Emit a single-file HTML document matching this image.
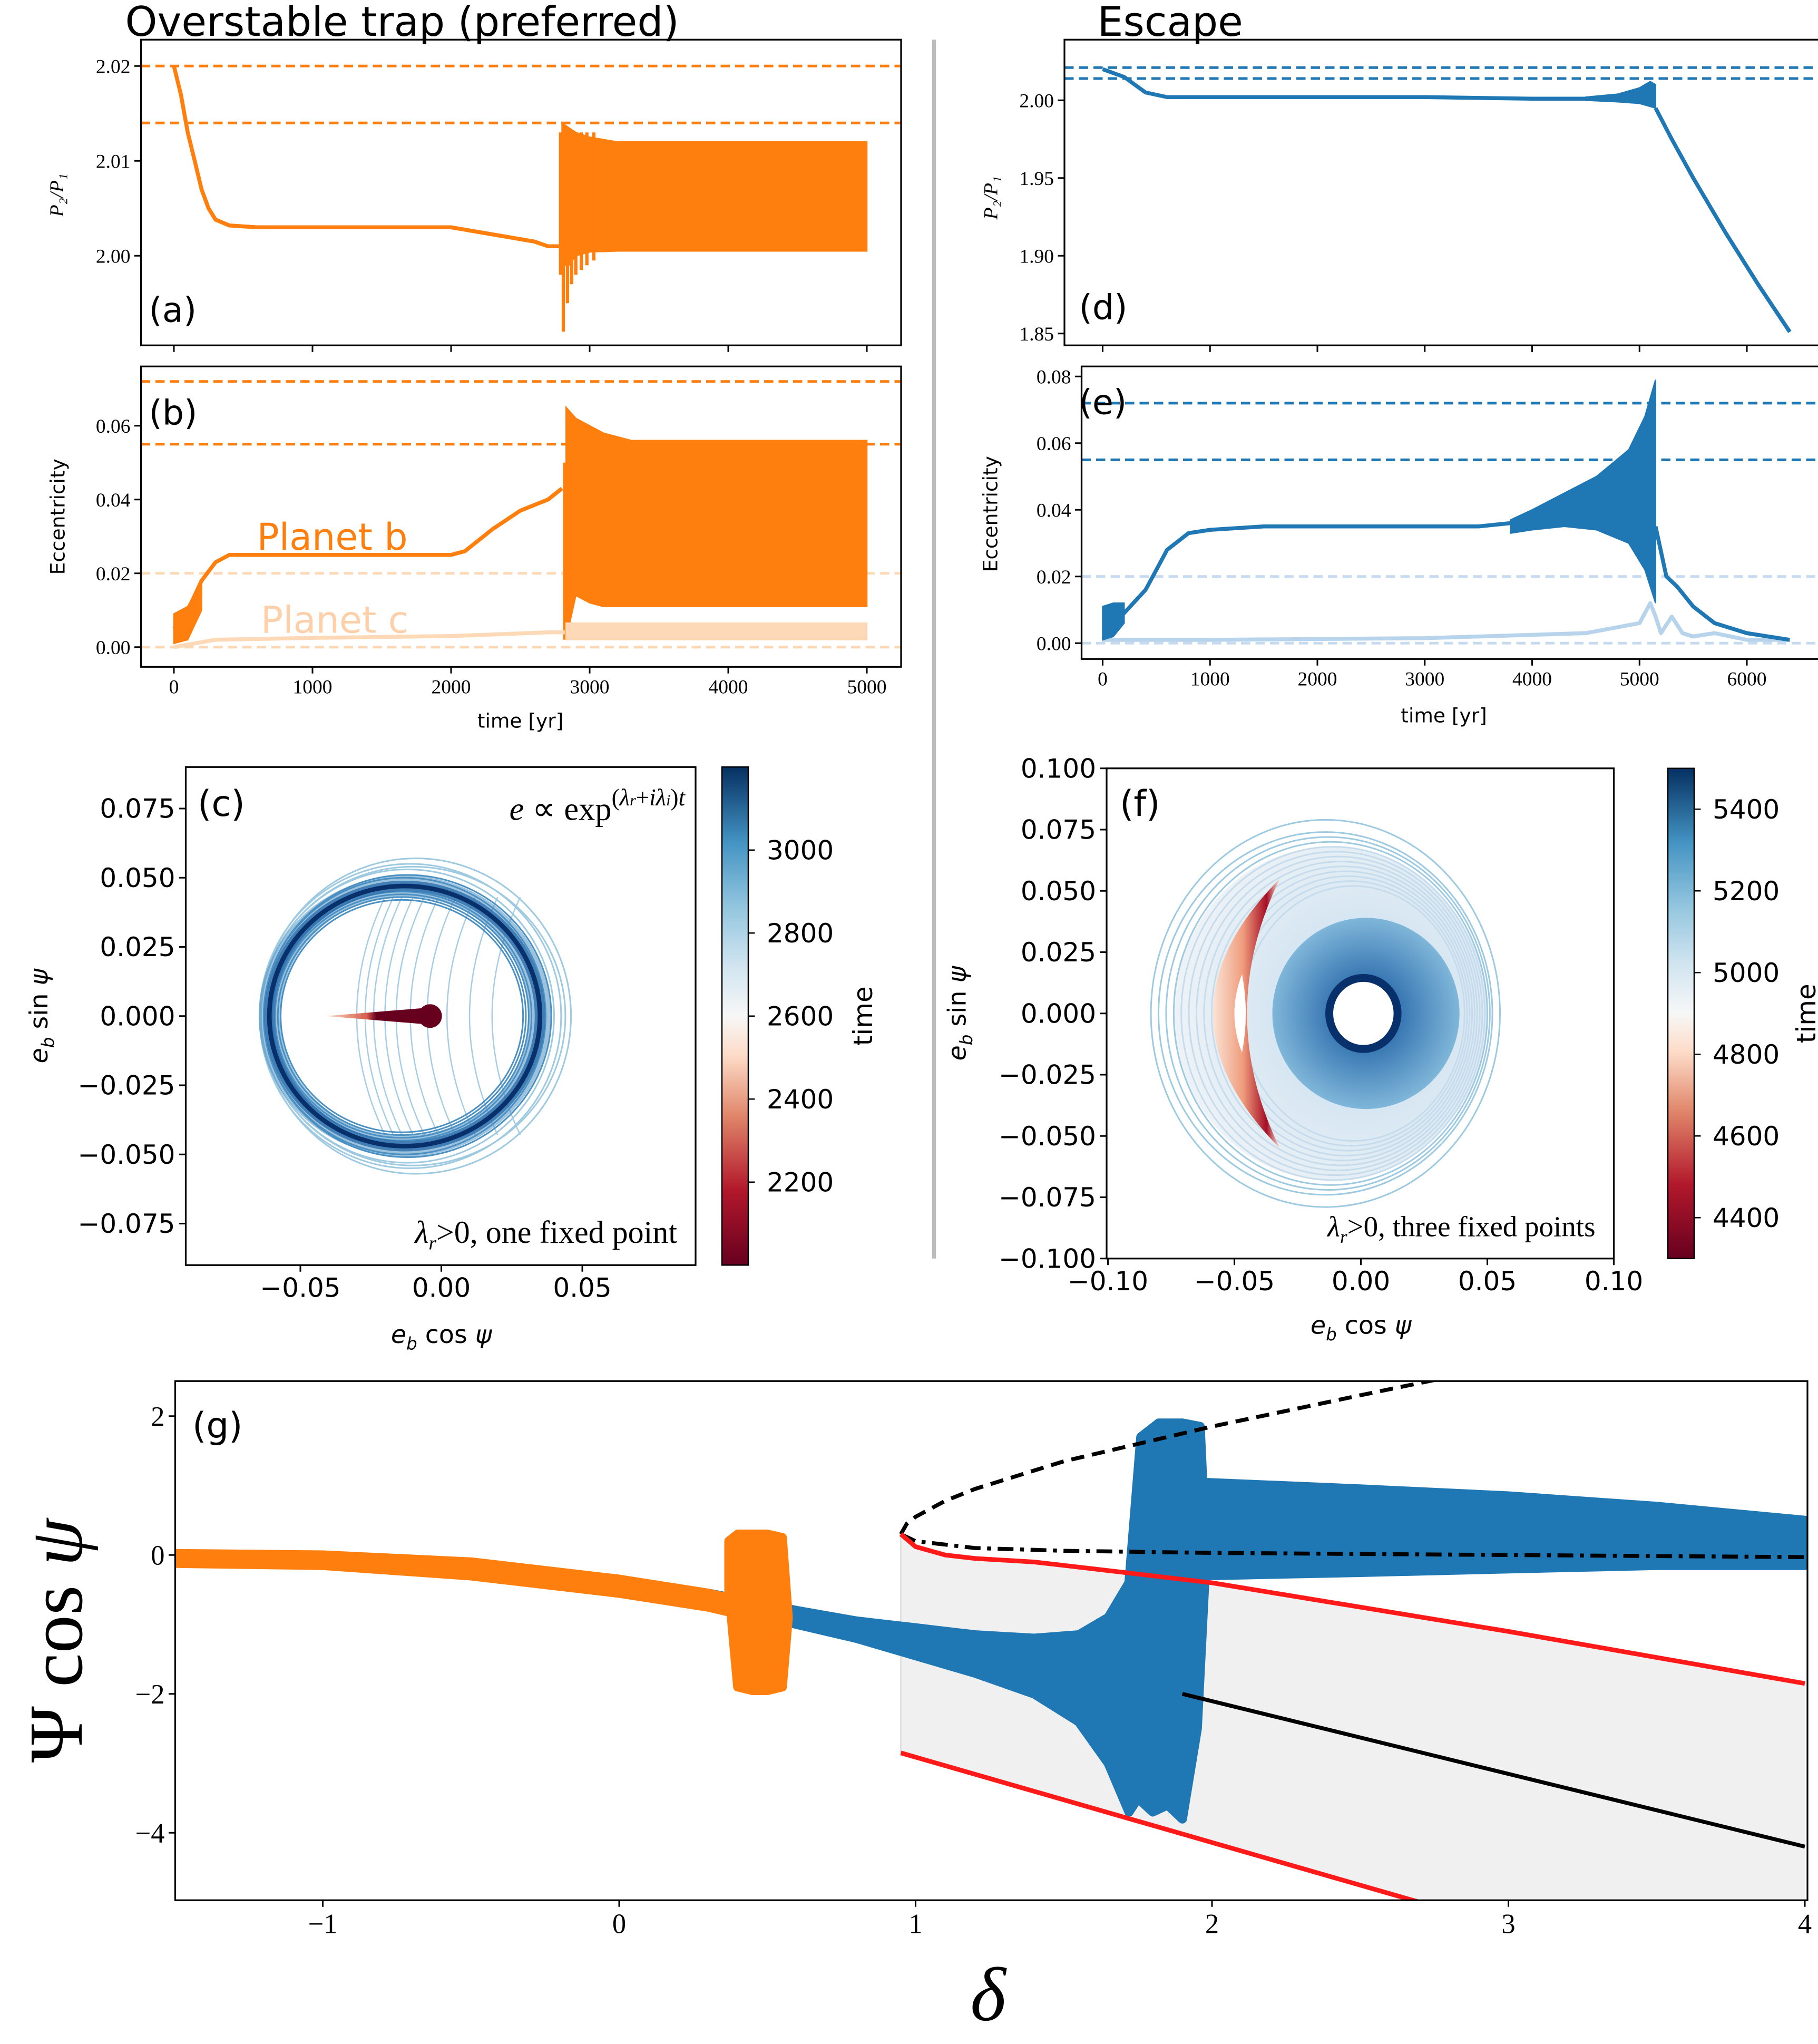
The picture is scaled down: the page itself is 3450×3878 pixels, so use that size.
<!DOCTYPE html>
<html><head><meta charset="utf-8">
<style>
html,body{margin:0;padding:0;background:#fff;}
svg{display:block;}
.serif{font-family:"Liberation Serif",serif;}
.sans{font-family:"DejaVu Sans","Liberation Sans",sans-serif;}
</style></head>
<body>
<svg id="fig" xmlns="http://www.w3.org/2000/svg" width="3450" height="3878" viewBox="0 0 1380 1551">
<defs>
<linearGradient id="rdbu" x1="0" y1="1" x2="0" y2="0">
<stop offset="0" stop-color="#67001f"/><stop offset="0.15" stop-color="#b2182b"/><stop offset="0.3" stop-color="#e0866a"/><stop offset="0.42" stop-color="#fddbc7"/><stop offset="0.5" stop-color="#f7f7f7"/><stop offset="0.6" stop-color="#d1e5f0"/><stop offset="0.72" stop-color="#92c5de"/><stop offset="0.85" stop-color="#4393c3"/><stop offset="1" stop-color="#053061"/>
</linearGradient>
<linearGradient id="cres" x1="0" y1="0" x2="1" y2="0">
<stop offset="0" stop-color="#fbe3d6"/><stop offset="0.45" stop-color="#ef9c7c"/><stop offset="0.8" stop-color="#a50f26"/><stop offset="1" stop-color="#fbe3d6"/>
</linearGradient>
<radialGradient id="donut" cx="0.5" cy="0.5" r="0.5">
<stop offset="0.3" stop-color="#2f6fae"/><stop offset="1" stop-color="#7fb6d9"/>
</radialGradient>
<radialGradient id="ffill" cx="0.6" cy="0.5" r="0.6">
<stop offset="0.4" stop-color="#d2e4f1"/><stop offset="1" stop-color="#eef3f7"/>
</radialGradient>
<linearGradient id="redline" x1="0" y1="0" x2="1" y2="0">
<stop offset="0" stop-color="#fddbc7"/><stop offset="0.4" stop-color="#d6604d"/><stop offset="0.5" stop-color="#67001f"/><stop offset="1" stop-color="#67001f"/>
</linearGradient>
</defs>
</svg>
<script>
// ---------- DATA ----------
const aT=[0,50,100,150,200,250,300,400,600,1000,1500,2000,2200,2400,2600,2700,2790];
const aP=[2.020,2.017,2.013,2.010,2.007,2.005,2.0038,2.0032,2.003,2.003,2.003,2.003,2.0025,2.002,2.0015,2.001,2.001];
const aBandT=[2800,2850,2900,3000,3200,3500,5000];
const aBandHi=[2.014,2.0135,2.013,2.0125,2.012,2.012,2.012];
const aBandLo=[1.999,1.999,2.000,2.0004,2.0005,2.0005,2.0005];
const aSpikeT=[2790,2810,2840,2870,2900,2940,2980,3030];
const aSpikeLo=[1.998,1.992,1.995,1.997,1.998,1.9985,1.999,1.9995];
const aDash=[2.020,2.014];
const aTicksY=[2.00,2.01,2.02];
const bT=[0,50,100,150,200,300,400,500,800,2000,2100,2300,2500,2700,2800];
const bE=[0.005,0.007,0.010,0.014,0.018,0.023,0.025,0.025,0.025,0.025,0.026,0.032,0.037,0.040,0.043];
const bBandT=[2830,2900,3000,3100,3300,5000];
const bBandHi=[0.065,0.062,0.060,0.058,0.056,0.056];
const bBandLo=[0.002,0.014,0.012,0.011,0.011,0.011];
const cT=[0,300,1000,2000,2700,2820];
const cE=[0.000,0.002,0.0025,0.003,0.004,0.004];
const cBandT=[2830,5000];
const cBandHi=[0.0065,0.0065];
const cBandLo=[0.002,0.002];
const bDash=[0.072,0.055];
const bDashLight=[0.020,0.000];
const bTicksY=[0.00,0.02,0.04,0.06];
const timeTicksA=[0,1000,2000,3000,4000,5000];
const dT=[0,200,400,600,1000,2000,3000,4000,4500];
const dP=[2.020,2.015,2.005,2.002,2.002,2.002,2.002,2.001,2.001];
const dBandT=[4500,4800,5000,5100,5150];
const dBandHi=[2.002,2.004,2.008,2.012,2.010];
const dBandLo=[2.000,1.999,1.998,1.996,1.995];
const dDecT=[5150,5300,5500,5800,6100,6400];
const dDecP=[1.995,1.975,1.950,1.915,1.882,1.851];
const dDash=[2.021,2.014];
const dTicksY=[1.85,1.90,1.95,2.00];
const eT=[0,200,400,500,600,800,1000,1500,2000,3000,3500,3800];
const eE=[0.006,0.009,0.016,0.022,0.028,0.033,0.034,0.035,0.035,0.035,0.035,0.036];
const eBandT=[3800,4000,4300,4600,4900,5050,5150];
const eBandHi=[0.037,0.040,0.045,0.050,0.058,0.068,0.079];
const eBandLo=[0.033,0.034,0.035,0.034,0.030,0.022,0.012];
const eTailT=[5150,5250,5350,5500,5700,6000,6400];
const eTailE=[0.035,0.020,0.017,0.011,0.006,0.003,0.001];
const eLT=[0,1000,3000,4500,5000,5100,5150,5200,5300,5400,5500,5700,6000,6400];
const eLE=[0.001,0.001,0.0015,0.003,0.006,0.012,0.008,0.003,0.008,0.003,0.002,0.003,0.001,0.001];
const eDash=[0.072,0.055];
const eDashLight=[0.020,0.000];
const eTicksY=[0.00,0.02,0.04,0.06,0.08];
const timeTicksE=[0,1000,2000,3000,4000,5000,6000];
const cTicks=[-0.075,-0.050,-0.025,0.000,0.025,0.050,0.075];
const cTicksX=[-0.05,0.00,0.05];
const cRingRx=[0.054,0.055,0.0535,0.052,0.051,0.050,0.046,0.045,0.044,0.043];
const cRingRy=[0.054,0.057,0.055,0.053,0.051,0.050,0.045,0.044,0.043,0.042];
const cRingCx=[-0.010,-0.009,-0.011,-0.012,-0.012,-0.013,-0.014,-0.014,-0.014,-0.014];
const cInnerX=[-0.036,-0.033,-0.030,-0.026,-0.022,-0.017,-0.011,-0.004,0.004,0.012];
const cbarC=[2200,2400,2600,2800,3000];
const fTicks=[-0.100,-0.075,-0.050,-0.025,0.000,0.025,0.050,0.075,0.100];
const fTicksX=[-0.10,-0.05,0.00,0.05,0.10];
const fRingRx=[0.069,0.066,0.064,0.062,0.060,0.058,0.056,0.054,0.052,0.050,0.048,0.046,0.044];
const fRingRy=[0.079,0.074,0.072,0.070,0.068,0.066,0.064,0.062,0.060,0.058,0.056,0.054,0.052];
const fRingCx=[-0.014,-0.014,-0.013,-0.012,-0.011,-0.010,-0.009,-0.008,-0.007,-0.006,-0.005,-0.004,-0.003];
const cbarF=[4400,4600,4800,5000,5200,5400];
const gOx=[-1.5,-1.0,-0.5,0.0,0.3,0.45];
const gOhi=[0.02,0.0,-0.1,-0.35,-0.55,-0.7];
const gOlo=[-0.12,-0.15,-0.3,-0.55,-0.75,-0.9];
const gOcx=[0.37,0.40,0.45,0.50,0.55,0.57,0.55,0.50,0.45,0.40,0.37];
const gOcy=[0.2,0.3,0.3,0.3,0.25,-0.9,-1.9,-1.95,-1.95,-1.9,-0.5];
const gBx=[0.30,0.6,0.8,1.0,1.2,1.4,1.55,1.65,1.72];
const gBhi=[-0.55,-0.8,-0.95,-1.05,-1.15,-1.2,-1.15,-0.9,-0.4];
const gBlo=[-0.68,-1.0,-1.2,-1.45,-1.7,-2.0,-2.4,-3.0,-3.7];
const gVx=[1.72,1.76,1.82,1.90,1.96,1.98,1.95,1.90,1.85,1.80,1.75,1.72];
const gVy=[-0.4,1.7,1.9,1.9,1.85,0.0,-2.5,-3.8,-3.6,-3.7,-3.5,-3.7];
const gRbx=[1.95,2.5,3.0,3.5,4.0];
const gRbhi=[1.05,0.95,0.85,0.7,0.5];
const gRblo=[-0.3,-0.25,-0.2,-0.15,-0.15];
const gUx=[0.95,0.97,1.0,1.1,1.2,1.5,2.0,2.5,2.75];
const gUy=[0.3,0.45,0.55,0.78,0.95,1.35,1.85,2.3,2.52];
const gMx=[0.95,1.0,1.2,1.5,2.0,3.0,4.0];
const gMy=[0.3,0.2,0.1,0.06,0.03,0.0,-0.03];
const gRx=[0.95,1.0,1.1,1.2,1.4,1.6,2.0,3.0,4.0];
const gRy=[0.3,0.12,0.0,-0.05,-0.1,-0.2,-0.4,-1.1,-1.85];
const gR2x=[0.95,2.7];
const gR2y=[-2.85,-5.0];
const gKx=[1.9,4.0];
const gKy=[-2.0,-4.2];
const gTicksX=[-1,0,1,2,3,4];
const gTicksY=[-4,-2,0,2];

// ---------- HELPERS ----------
const NS='http://www.w3.org/2000/svg';
const svg=document.getElementById('fig');
function mk(tag,attrs,name,parent){
  const el=document.createElementNS(NS,tag);
  for(const k in attrs) el.setAttribute(k,attrs[k]);
  
  
  (parent||svg).appendChild(el);
  return el;
}
function txt(s,x,y,size,cls,name,anchor,extra){
  const a=Object.assign({x:x,y:y,'font-size':size,'class':cls,'text-anchor':anchor||'start'},extra||{});
  const t=mk('text',a,name);
  t.textContent=s;
  return t;
}
function pts(xs,ys,X,Y){return xs.map((v,i)=>X(v).toFixed(1)+','+Y(ys[i]).toFixed(1)).join(' ');}
function line(xs,ys,X,Y,stroke,w,name,extra){
  return mk('polyline',Object.assign({points:pts(xs,ys,X,Y),fill:'none',stroke:stroke,'stroke-width':w,'stroke-linejoin':'round'},extra||{}),name);
}
function band(xs,hi,lo,X,Y,fill,name){
  const p=pts(xs,hi,X,Y)+' '+pts(xs.slice().reverse(),lo.slice().reverse(),X,Y);
  return mk('polygon',{points:p,fill:fill,stroke:fill,'stroke-width':1},name);
}
function frame(x0,y0,x1,y1,name){mk('rect',{x:x0,y:y0,width:x1-x0,height:y1-y0,fill:'none',stroke:'#000','stroke-width':1.3},name);}
function hdash(v,Y,x0,x1,col,name){mk('line',{x1:x0,x2:x1,y1:Y(v),y2:Y(v),stroke:col,'stroke-width':2,'stroke-dasharray':'7,4'},name);}
function yticks(vals,Y,x,fmt,size,cls,name){vals.forEach(v=>{mk('line',{x1:x-5,x2:x,y1:Y(v),y2:Y(v),stroke:'#000','stroke-width':1.2},name+'-tick');txt(fmt(v),x-8,Y(v)+size*0.35,size,cls,name+'-label','end');});}
function xticks(vals,X,y,fmt,size,cls,name,nolabel){vals.forEach(v=>{mk('line',{x1:X(v),x2:X(v),y1:y,y2:y+5,stroke:'#000','stroke-width':1.2},name+'-tick');if(!nolabel)txt(fmt(v),X(v),y+8+size*0.8,size,cls,name+'-label','middle');});}
function minus(s){return s.replace('-','\u2212');}

const OR='#ff7f0e', BL='#1f77b4', LOR='#fdd9b8', LBL='#b5d3ea';

// ---------- PANEL A ----------
{
const X=t=>132+t*0.1052, Y=p=>194-(p-2.00)*7200;
txt('Overstable trap (preferred)',95,27,31,'sans','title-left');
aDash.forEach(v=>hdash(v,Y,107,684,OR,'panel-a-dashed-level'));
line(aT,aP,X,Y,OR,3,'panel-a-line');
band(aBandT,aBandHi,aBandLo,X,Y,OR,'panel-a-band');
aSpikeT.forEach((t,i)=>mk('line',{x1:X(t),x2:X(t),y1:Y(2.013),y2:Y(aSpikeLo[i]),stroke:OR,'stroke-width':2.5},'panel-a-spike'));
frame(107,30,684,262,'panel-a-frame');
yticks(aTicksY,Y,107,v=>v.toFixed(2),15,'serif','panel-a-ytick');
xticks(timeTicksA,X,262,v=>v,15,'serif','panel-a-xtick',true);
txt('P\u2082/P\u2081',0,0,15,'serif','panel-a-ylabel','middle',{transform:'translate(48,148) rotate(-90)','font-style':'italic'});
txt('(a)',113,244,26,'sans','panel-a-letter');
}
// ---------- PANEL B ----------
{
const X=t=>132+t*0.1052, Y=e=>491-e*2800;
bDashLight.forEach(v=>hdash(v,Y,107,684,LOR,'panel-b-light-dashed'));
bDash.forEach(v=>hdash(v,Y,107,684,OR,'panel-b-dashed-level'));
band([0,100,200],[0.009,0.011,0.018],[0.001,0.002,0.010],X,Y,OR,'panel-b-early-band');
line(bT,bE,X,Y,OR,3,'planet-b-line');
band(bBandT,bBandHi,bBandLo,X,Y,OR,'planet-b-band');
mk('line',{x1:X(2820),x2:X(2820),y1:Y(0.05),y2:Y(0.002),stroke:OR,'stroke-width':2.5},'planet-b-spike');
line(cT,cE,X,Y,LOR,3,'planet-c-line');
band(cBandT,cBandHi,cBandLo,X,Y,LOR,'planet-c-band');
frame(107,278,684,506,'panel-b-frame');
yticks(bTicksY,Y,107,v=>v.toFixed(2),15,'serif','panel-b-ytick');
xticks(timeTicksA,X,506,v=>v,15,'serif','panel-b-xtick');
txt('time [yr]',395,552,15,'sans','panel-b-xlabel','middle');
txt('Eccentricity',0,0,15,'sans','panel-b-ylabel','middle',{transform:'translate(49,392) rotate(-90)'});
txt('(b)',113,322,26,'sans','panel-b-letter');
txt('Planet b',195,417,28,'sans','planet-b-label','start',{fill:OR});
txt('Planet c',198,480,28,'sans','planet-c-label','start',{fill:'#fdd0aa'});
}
mk('line',{x1:709,x2:709,y1:30,y2:955,stroke:'#bbb','stroke-width':3},'panel-separator');
// ---------- PANEL D ----------
{
const X=t=>837+t*0.0815, Y=p=>76-(p-2.00)*1180;
txt('Escape',833,27,31,'sans','title-right');
dDash.forEach(v=>hdash(v,Y,808,1381,BL,'panel-d-dashed-level'));
line(dT,dP,X,Y,BL,3,'panel-d-line');
band(dBandT,dBandHi,dBandLo,X,Y,BL,'panel-d-band');
line(dDecT,dDecP,X,Y,BL,3,'panel-d-decay');
frame(808,30,1381,262,'panel-d-frame');
yticks(dTicksY,Y,808,v=>v.toFixed(2),15,'serif','panel-d-ytick');
xticks(timeTicksE,X,262,v=>v,15,'serif','panel-d-xtick',true);
txt('P\u2082/P\u2081',0,0,15,'serif','panel-d-ylabel','middle',{transform:'translate(757,150) rotate(-90)','font-style':'italic'});
txt('(d)',819,242,26,'sans','panel-d-letter');
}
// ---------- PANEL E ----------
{
const X=t=>837+t*0.0815, Y=e=>488-e*2530;
eDashLight.forEach(v=>hdash(v,Y,821,1381,'#c6dbef','panel-e-light-dashed'));
eDash.forEach(v=>hdash(v,Y,821,1381,BL,'panel-e-dashed-level'));
line(eLT,eLE,X,Y,'#b8d4ec',3,'panel-e-light-line');
band([0,100,200],[0.011,0.012,0.012],[0.001,0.002,0.006],X,Y,BL,'panel-e-early-band');
line(eT,eE,X,Y,BL,3,'panel-e-line');
band(eBandT,eBandHi,eBandLo,X,Y,BL,'panel-e-band');
line(eTailT,eTailE,X,Y,BL,3,'panel-e-tail');
frame(821,278,1381,500,'panel-e-frame');
yticks(eTicksY,Y,821,v=>v.toFixed(2),15,'serif','panel-e-ytick');
xticks(timeTicksE,X,500,v=>v,15,'serif','panel-e-xtick');
txt('time [yr]',1096,548,15,'sans','panel-e-xlabel','middle');
txt('Eccentricity',0,0,15,'sans','panel-e-ylabel','middle',{transform:'translate(757,390) rotate(-90)'});
txt('(e)',819,314,26,'sans','panel-e-letter');
}
// ---------- PANEL C ----------
{
const X=v=>335+v*2140, Y=v=>771-v*2100;
cInnerX.forEach((x0,i)=>{
  mk('path',{d:`M${X(x0+0.016)} ${Y(0.043)} Q ${X(x0-0.004)} ${Y(0)} ${X(x0+0.016)} ${Y(-0.043)}`,fill:'none',stroke:'#a6cde3','stroke-width':1},'panel-c-inner-curve');
});
cRingRx.forEach((rx,i)=>mk('ellipse',{cx:X(cRingCx[i]),cy:Y(0),rx:rx*2140,ry:cRingRy[i]*2100,fill:'none',stroke:i<4?'#9ecae1':'#4a90c2','stroke-width':1.2},'panel-c-ring'));
mk('ellipse',{cx:X(-0.013),cy:Y(0),rx:0.048*2140,ry:0.047*2100,fill:'none',stroke:'#4a90c2','stroke-width':16,opacity:0.55},'panel-c-ring-halo');
mk('ellipse',{cx:X(-0.013),cy:Y(0),rx:0.048*2140,ry:0.047*2100,fill:'none',stroke:'#2c6ead','stroke-width':8,opacity:0.8},'panel-c-ring-halo2');
mk('ellipse',{cx:X(-0.013),cy:Y(0),rx:0.048*2140,ry:0.047*2100,fill:'none',stroke:'#08306b','stroke-width':3.5},'panel-c-limit-cycle');
mk('polygon',{points:`${X(-0.041)},${Y(0)} ${X(-0.005)},${Y(0.003)} ${X(-0.005)},${Y(-0.003)}`,fill:'url(#redline)'},'panel-c-red-trajectory');
mk('circle',{cx:X(-0.004),cy:Y(0),r:9,fill:'#67001f'},'panel-c-fixed-point');
frame(141,582,528,960,'panel-c-frame');
yticks(cTicks,Y,141,v=>minus(v.toFixed(3)),20,'sans','panel-c-ytick');
xticks(cTicksX,X,960,v=>minus(v.toFixed(2)),20,'sans','panel-c-xtick');
const xl=txt('',335,1019,19,'sans','panel-c-xlabel','middle');xl.innerHTML='<tspan font-style="italic">e</tspan><tspan font-size="13" dy="5" font-style="italic">b</tspan><tspan dy="-5"> cos </tspan><tspan font-style="italic">ψ</tspan>';
const yl=txt('',0,0,19,'sans','panel-c-ylabel','middle',{transform:'translate(36,771) rotate(-90)'});yl.innerHTML='<tspan font-style="italic">e</tspan><tspan font-size="13" dy="5" font-style="italic">b</tspan><tspan dy="-5"> sin </tspan><tspan font-style="italic">ψ</tspan>';
txt('(c)',150,619,27,'sans','panel-c-letter');
const eq=txt('',520,622,25,'serif','panel-c-equation','end');eq.innerHTML='<tspan font-style="italic">e</tspan> ∝ exp<tspan font-size="18" dy="-11">(<tspan font-style="italic">λ</tspan><tspan font-size="12" font-style="italic">r</tspan>+<tspan font-style="italic">iλ</tspan><tspan font-size="12" font-style="italic">i</tspan>)<tspan font-style="italic">t</tspan></tspan>';
const nt=txt('',514,943,24,'serif','panel-c-note','end');nt.innerHTML='<tspan font-style="italic">λ</tspan><tspan font-size="15" dy="5" font-style="italic">r</tspan><tspan dy="-5">&gt;0, one fixed point</tspan>';
const CB=v=>771-(v-2600)*0.315;
mk('rect',{x:548,y:582,width:20,height:378,fill:'url(#rdbu)',stroke:'#000','stroke-width':1},'panel-c-colorbar');
cbarC.forEach(v=>{mk('line',{x1:568,x2:573,y1:CB(v),y2:CB(v),stroke:'#000'},'panel-c-cbar-tick');txt(String(v),582,CB(v)+7,20,'sans','panel-c-cbar-label');});
txt('time',0,0,20,'sans','panel-c-cbar-title','middle',{transform:'translate(662,771) rotate(-90)'});
}
// ---------- PANEL F ----------
{
const X=v=>1033+v*1920, Y=v=>769-v*1860;
mk('ellipse',{cx:X(-0.012),cy:Y(0),rx:0.062*1920,ry:0.068*1860,fill:'url(#ffill)'},'panel-f-fill');
fRingRx.forEach((rx,i)=>mk('ellipse',{cx:X(fRingCx[i]),cy:Y(0),rx:rx*1920,ry:fRingRy[i]*1860,fill:'none',stroke:i<4?'#9ecae1':'#c6dcec','stroke-width':1.2},'panel-f-ring'));
mk('path',{d:`M${X(-0.032)} ${Y(0.055)} Q ${X(-0.085)} ${Y(0)} ${X(-0.032)} ${Y(-0.055)} Q ${X(-0.058)} ${Y(0)} ${X(-0.032)} ${Y(0.055)} Z`,fill:'url(#cres)'},'panel-f-crescent');
mk('path',{d:`M${X(-0.047)} ${Y(0.016)} Q ${X(-0.053)} ${Y(0)} ${X(-0.047)} ${Y(-0.016)} Q ${X(-0.044)} ${Y(0)} ${X(-0.047)} ${Y(0.016)} Z`,fill:'#fff'},'panel-f-crescent-gap');
mk('ellipse',{cx:X(0.002),cy:Y(0),rx:0.037*1920,ry:0.039*1860,fill:'url(#donut)'},'panel-f-donut');
mk('ellipse',{cx:X(0.001),cy:Y(0),rx:0.0135*1920,ry:0.0145*1860,fill:'#fff',stroke:'#08306b','stroke-width':6},'panel-f-hole');
frame(840,583,1225,955,'panel-f-frame');
yticks(fTicks,Y,840,v=>minus(v.toFixed(3)),20,'sans','panel-f-ytick');
xticks(fTicksX,X,955,v=>minus(v.toFixed(2)),20,'sans','panel-f-xtick');
const xl=txt('',1033,1012,19,'sans','panel-f-xlabel','middle');xl.innerHTML='<tspan font-style="italic">e</tspan><tspan font-size="13" dy="5" font-style="italic">b</tspan><tspan dy="-5"> cos </tspan><tspan font-style="italic">ψ</tspan>';
const yl=txt('',0,0,19,'sans','panel-f-ylabel','middle',{transform:'translate(733,769) rotate(-90)'});yl.innerHTML='<tspan font-style="italic">e</tspan><tspan font-size="13" dy="5" font-style="italic">b</tspan><tspan dy="-5"> sin </tspan><tspan font-style="italic">ψ</tspan>';
txt('(f)',850,619,27,'sans','panel-f-letter');
const nt=txt('',1211,938,22,'serif','panel-f-note','end');nt.innerHTML='<tspan font-style="italic">λ</tspan><tspan font-size="14" dy="5" font-style="italic">r</tspan><tspan dy="-5">&gt;0, three fixed points</tspan>';
const CB=v=>738-(v-5000)*0.31;
mk('rect',{x:1266,y:583,width:20,height:372,fill:'url(#rdbu)',stroke:'#000','stroke-width':1},'panel-f-colorbar');
cbarF.forEach(v=>{mk('line',{x1:1286,x2:1291,y1:CB(v),y2:CB(v),stroke:'#000'},'panel-f-cbar-tick');txt(String(v),1300,CB(v)+7,20,'sans','panel-f-cbar-label');});
txt('time',0,0,20,'sans','panel-f-cbar-title','middle',{transform:'translate(1378,769) rotate(-90)'});
}
// ---------- PANEL G ----------
{
const X=d=>470+d*225, Y=v=>1180-v*52.7;
mk('clipPath',{id:'gclip'},'panel-g-clip');
const cp=svg.lastChild;
mk('rect',{x:133,y:1048,width:1239,height:394},'panel-g-clip-rect',cp);
const g=mk('g',{'clip-path':'url(#gclip)'},'panel-g-plot');
const fx=gRx.concat([4.0,2.7,0.95]);
const fy=gRy.concat([-5.0,-5.0,-2.85]);
mk('polygon',{points:pts(fx,fy,X,Y),fill:'#f0f0f0'},'panel-g-unstable-region',g);
mk('line',{x1:X(0.95),x2:X(0.95),y1:Y(0.3),y2:Y(-2.85),stroke:'#ddd','stroke-width':1},'panel-g-region-edge',g);
function gb(xs,hi,lo,fill,name){const p=pts(xs,hi,X,Y)+' '+pts(xs.slice().reverse(),lo.slice().reverse(),X,Y);mk('polygon',{points:p,fill:fill,stroke:fill,'stroke-width':7,'stroke-linejoin':'round'},name,g);}
gb(gBx,gBhi,gBlo,BL,'scatter-escape-funnel');
mk('polygon',{points:pts(gVx,gVy,X,Y),fill:BL,stroke:BL,'stroke-width':7,'stroke-linejoin':'round'},'scatter-escape-vertical',g);
gb(gRbx,gRbhi,gRblo,BL,'scatter-escape-band');
gb(gOx,gOhi,gOlo,OR,'scatter-trap-track');
mk('polygon',{points:pts(gOcx,gOcy,X,Y),fill:OR,stroke:OR,'stroke-width':7,'stroke-linejoin':'round'},'scatter-trap-cluster',g);
line(gUx,gUy,X,Y,'#000',3,'panel-g-upper-dashed',{'stroke-dasharray':'10,6'});
g.appendChild(svg.lastChild);
line(gMx,gMy,X,Y,'#000',3,'panel-g-dashdot',{'stroke-dasharray':'12,5,3,5'});
g.appendChild(svg.lastChild);
line(gRx,gRy,X,Y,'#ff1a1a',3.5,'panel-g-red-upper');
g.appendChild(svg.lastChild);
line(gR2x,gR2y,X,Y,'#ff1a1a',3.5,'panel-g-red-lower');
g.appendChild(svg.lastChild);
line(gKx,gKy,X,Y,'#000',3,'panel-g-black-solid');
g.appendChild(svg.lastChild);
frame(133,1048,1372,1442,'panel-g-frame');
yticks(gTicksY,Y,133,v=>minus(String(v)),21,'serif','panel-g-ytick');
xticks(gTicksX,X,1442,v=>minus(String(v)),21,'serif','panel-g-xtick');
txt('(g)',146,1091,27,'sans','panel-g-letter');
const yl=txt('',0,0,58,'serif','panel-g-ylabel','middle',{transform:'translate(62,1245) rotate(-90)'});yl.innerHTML='Ψ cos <tspan font-style="italic">ψ</tspan>';
txt('δ',750,1533,58,'serif','panel-g-xlabel','middle',{'font-style':'italic'});
}
</script>
</body></html>
